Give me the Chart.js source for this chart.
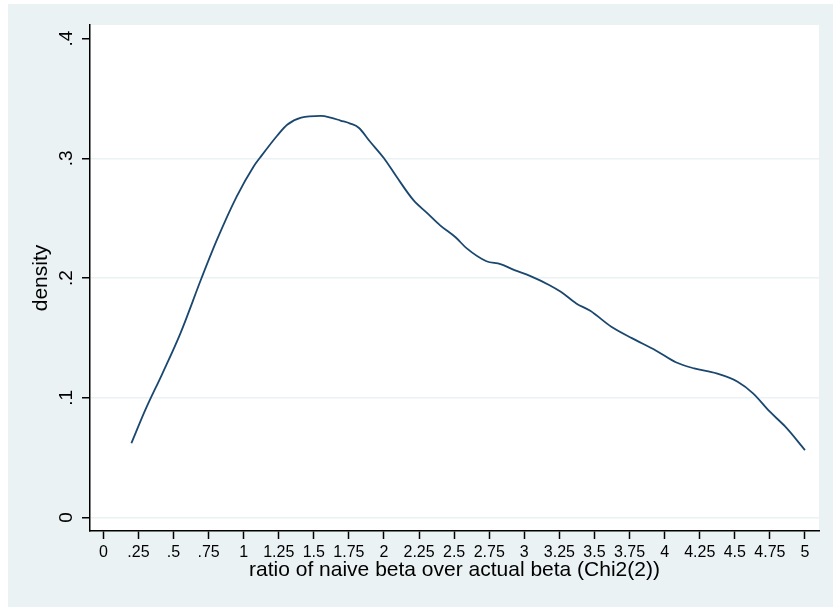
<!DOCTYPE html>
<html>
<head>
<meta charset="utf-8">
<script src="https://cdn.jsdelivr.net/npm/chart.js@4.4.1/dist/chart.umd.min.js"></script>
<style>
  html, body { margin: 0; padding: 0; background: #fff; }
  canvas { display: block; }
</style>
</head>
<body>
<canvas id="chart" width="833" height="608"></canvas>
<script>
// Kernel density estimate of the ratio of naive beta over actual beta
const ratio = [
  0.20, 0.30, 0.42, 0.55, 0.70, 0.81, 0.95, 1.07, 1.12, 1.24,
  1.31, 1.41, 1.55, 1.62, 1.69, 1.76, 1.82, 1.90, 2.00, 2.09,
  2.21, 2.31, 2.40, 2.51, 2.59, 2.73, 2.83, 2.93, 3.04, 3.18,
  3.26, 3.37, 3.47, 3.62, 3.77, 3.94, 4.08, 4.21, 4.37, 4.52,
  4.63, 4.75, 4.86, 5.00
];
const density = [
  0.062, 0.090, 0.120, 0.154, 0.200, 0.232, 0.268, 0.293, 0.301, 0.319,
  0.328, 0.334, 0.3354, 0.334, 0.3315, 0.329, 0.3255, 0.314, 0.300, 0.2845,
  0.265, 0.254, 0.244, 0.234, 0.2247, 0.214, 0.2116, 0.2066, 0.2018, 0.194,
  0.1885, 0.1788, 0.1726, 0.1593, 0.1496, 0.1393, 0.1296, 0.1245, 0.1203, 0.1134,
  0.1037, 0.0883, 0.0758, 0.0563
];
const xTickValues = [0, 0.25, 0.5, 0.75, 1, 1.25, 1.5, 1.75, 2, 2.25, 2.5, 2.75,
  3, 3.25, 3.5, 3.75, 4, 4.25, 4.5, 4.75, 5];
const yTickValues = [0, 0.1, 0.2, 0.3, 0.4];
const xTitle = 'ratio of naive beta over actual beta (Chi2(2))';
const yTitle = 'density';

const FONT = '"Liberation Sans", Arial, Helvetica, sans-serif';
const NAVY = '#1A476F';
const BLUISH = '#EAF2F3';

// Stata-style number labels: ".25" rather than "0.25"
function fmt(v) {
  return (+v.toFixed(2)).toString().replace(/^0\./, '.');
}

const stataFrame = {
  id: 'stataFrame',
  beforeDraw(chart) {
    const { ctx, chartArea: a } = chart;
    ctx.save();
    ctx.fillStyle = '#fff';
    ctx.fillRect(0, 0, chart.width, chart.height);
    ctx.fillStyle = BLUISH;
    ctx.fillRect(8, 4, chart.width - 8, chart.height - 5);
    ctx.fillStyle = '#fff';
    ctx.fillRect(a.left, a.top, a.right - a.left, a.bottom - a.top);
    ctx.restore();
  },
  afterDraw(chart) {
    const { ctx, chartArea: a } = chart;
    const ys = chart.scales.y;
    ctx.save();
    ctx.fillStyle = '#000';
    ctx.textAlign = 'center';
    ctx.textBaseline = 'alphabetic';

    // vertical-axis labels, turned to read upwards
    ctx.font = '19px ' + FONT;
    ys.ticks.forEach(t => {
      ctx.save();
      ctx.translate(a.left - 18, ys.getPixelForValue(t.value));
      ctx.rotate(-Math.PI / 2);
      ctx.fillText(fmt(t.value), 0, 0);
      ctx.restore();
    });

    // axis titles
    ctx.font = '21px ' + FONT;
    ctx.fillText(xTitle, (a.left + a.right) / 2, a.bottom + 44.5);
    ctx.save();
    ctx.translate(a.left - 43.5, (a.top + a.bottom) / 2);
    ctx.rotate(-Math.PI / 2);
    ctx.fillText(yTitle, 0, 0);
    ctx.restore();
    ctx.restore();
  }
};

new Chart(document.getElementById('chart'), {
  type: 'line',
  data: {
    datasets: [{
      data: ratio.map((x, i) => ({ x: x, y: density[i] })),
      borderColor: NAVY,
      borderWidth: 1.8,
      pointRadius: 0,
      fill: false,
      cubicInterpolationMode: 'monotone'
    }]
  },
  options: {
    responsive: false,
    animation: false,
    devicePixelRatio: 1,
    layout: { padding: { left: 0, top: 25, right: 14, bottom: 0 } },
    plugins: { legend: { display: false }, tooltip: { enabled: false } },
    scales: {
      x: {
        type: 'linear',
        min: -0.095,
        max: 5.1,
        afterBuildTicks: s => { s.ticks = xTickValues.map(v => ({ value: v })); },
        afterFit: s => { s.height = 77; },
        grid: {
          drawOnChartArea: false,
          drawTicks: true,
          tickLength: 8,
          tickColor: '#000',
          tickWidth: 1.5
        },
        border: { display: true, color: '#000', width: 1.5 },
        ticks: {
          padding: 3.7,
          color: '#000',
          font: { family: FONT, size: 16 },
          minRotation: 0,
          maxRotation: 0,
          autoSkip: false,
          callback: v => fmt(v)
        }
      },
      y: {
        type: 'linear',
        min: -0.0113,
        max: 0.4113,
        afterBuildTicks: s => { s.ticks = yTickValues.map(v => ({ value: v })); },
        afterFit: s => { s.width = 90; },
        grid: {
          color: c => (c.tick && Math.abs(c.tick.value - 0.4) < 1e-9) ? 'rgba(0,0,0,0)' : BLUISH,
          lineWidth: 1.5,
          drawTicks: true,
          tickLength: 8,
          tickColor: '#000',
          tickWidth: 1.5
        },
        border: { display: true, color: '#000', width: 1.5 },
        ticks: { display: false }
      }
    }
  },
  plugins: [stataFrame]
});
</script>
</body>
</html>
